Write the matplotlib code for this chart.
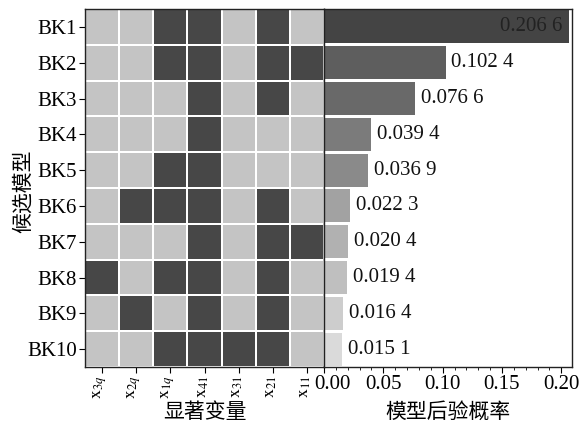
import matplotlib
matplotlib.use("Agg")
import matplotlib.pyplot as plt
import numpy as np
from matplotlib.colors import ListedColormap
from matplotlib.ticker import MultipleLocator
from matplotlib.transforms import ScaledTranslation

plt.rcParams['font.family'] = ['Liberation Serif', 'Noto Sans CJK SC']
plt.rcParams['mathtext.fontset'] = 'stix'

models = ["BK1", "BK2", "BK3", "BK4", "BK5", "BK6", "BK7", "BK8", "BK9", "BK10"]
variables = [r"$\mathrm{x}_{3q}$", r"$\mathrm{x}_{2q}$", r"$\mathrm{x}_{1q}$",
             r"$\mathrm{x}_{41}$", r"$\mathrm{x}_{31}$", r"$\mathrm{x}_{21}$", r"$\mathrm{x}_{11}$"]
inclusion = [
    [0, 0, 1, 1, 0, 1, 0],
    [0, 0, 1, 1, 0, 1, 1],
    [0, 0, 0, 1, 0, 1, 0],
    [0, 0, 0, 1, 0, 0, 0],
    [0, 0, 1, 1, 0, 0, 0],
    [0, 1, 1, 1, 0, 1, 0],
    [0, 0, 0, 1, 0, 1, 1],
    [1, 0, 1, 1, 0, 1, 0],
    [0, 1, 0, 1, 0, 1, 0],
    [0, 0, 1, 1, 1, 1, 0],
]
probs = [0.2066, 0.1024, 0.0766, 0.0394, 0.0369, 0.0223, 0.0204, 0.0194, 0.0164, 0.0151]
prob_labels = ["0.206 6", "0.102 4", "0.076 6", "0.039 4", "0.036 9",
               "0.022 3", "0.020 4", "0.019 4", "0.016 4", "0.015 1"]
bar_colors = ["#444444", "#5e5e5e", "#696969", "#7b7b7b", "#8a8a8a",
              "#a2a2a2", "#b1b1b1", "#bfbfbf", "#cdcdcd", "#dadada"]
xticks = [0, 0.05, 0.10, 0.15, 0.20]
xticklabels = ["0.00", "0.05", "0.10", "0.15", "0.20"]

W, H = 587, 425
fig = plt.figure(figsize=(W / 100, H / 100), dpi=100)

left, right_l, right_r = 85, 324, 572
top, bottom = 9, 367
ax1 = fig.add_axes([left / W, 1 - bottom / H, (right_l - left) / W, (bottom - top) / H])
ax2 = fig.add_axes([right_l / W, 1 - bottom / H, (right_r - right_l) / W, (bottom - top) / H])

data = np.array(inclusion)
cmap = ListedColormap(["#c4c4c4", "#474747"])
ax1.pcolormesh(data, cmap=cmap, edgecolors="white", linewidth=1.2, vmin=0, vmax=1)
ax1.set_xlim(0, len(variables))
ax1.set_ylim(len(models), 0)
ax1.set_yticks(np.arange(len(models)) + 0.5)
ax1.set_yticklabels(models, fontsize=15)
ax1.set_xticks(np.arange(len(variables)) + 0.5)
ax1.set_xticklabels(variables, rotation=90, fontsize=13)
ax1.tick_params(axis='both', length=4, width=0.8, pad=2)
ax1.set_xlabel("显著变量", fontsize=15, family='Noto Sans CJK SC')
ax1.xaxis.set_label_coords(0.5, -0.095)
ax1.set_ylabel("候选模型", fontsize=15, family='Noto Sans CJK SC')
ax1.yaxis.set_label_coords(-0.215, 0.49)

y = np.arange(len(models)) + 0.5
ax2.barh(y, probs, height=0.92, color=bar_colors, edgecolor='none')
ax2.set_ylim(len(models), 0)
ax2.set_xlim(0, 0.209)
ax2.set_yticks([])
ax2.xaxis.set_minor_locator(MultipleLocator(0.01))
ax2.set_xticks(xticks)
ax2.set_xticklabels(xticklabels, fontsize=15)
ax2.tick_params(axis='x', which='major', length=4, width=0.8, pad=2)
ax2.tick_params(axis='x', which='minor', length=2.5, width=0.6)
ax2.set_xlabel("模型后验概率", fontsize=15, family='Noto Sans CJK SC')
ax2.xaxis.set_label_coords(0.5, -0.095)

# small horizontal nudges of tick labels (after tick_params, which resets transforms)
shift_left = ScaledTranslation(-0.02, 0, fig.dpi_scale_trans)
for lab in ax1.get_xticklabels():
    lab.set_transform(lab.get_transform() + shift_left)
shift_right = ScaledTranslation(0.08, 0, fig.dpi_scale_trans)
lab0 = ax2.get_xticklabels()[0]
lab0.set_transform(lab0.get_transform() + shift_right)

for i, (p, lab) in enumerate(zip(probs, prob_labels)):
    if p > 0.15:
        ax2.text(p - 0.006, y[i], lab, ha='right', va='center', fontsize=15, color='#222222')
    else:
        ax2.text(p + 0.005, y[i], lab, ha='left', va='center', fontsize=15, color='#111111')

for ax in (ax1, ax2):
    for s in ax.spines.values():
        s.set_linewidth(1.0)
        s.set_color('#222222')

fig.savefig("out.png", dpi=100)
